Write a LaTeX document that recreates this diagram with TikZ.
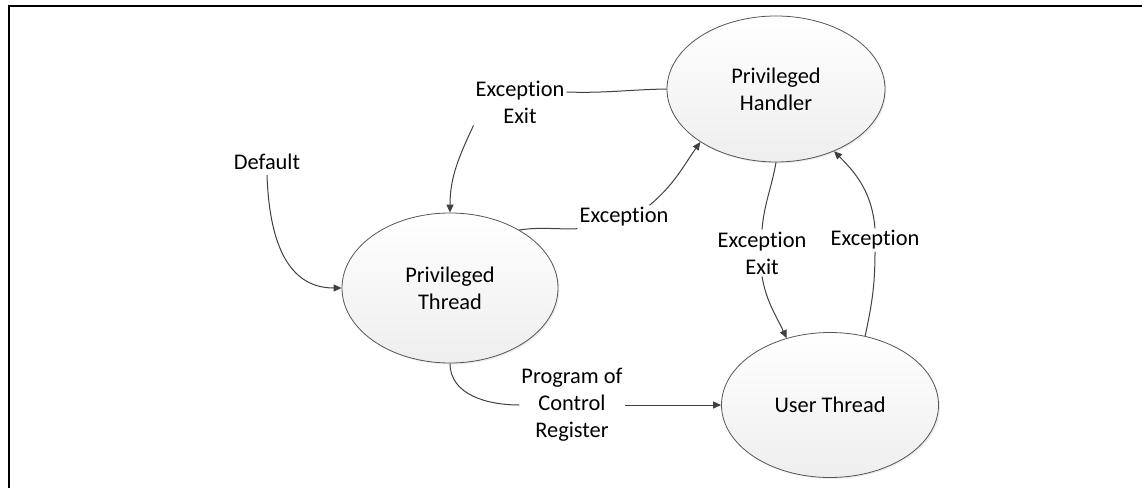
\documentclass[tikz,border=0pt]{standalone}
\usepackage{fontspec}
\setmainfont[Ligatures={NoCommon},RawFeature={-liga;-dlig;-clig}]{Carlito}
\usetikzlibrary{arrows.meta,shapes.geometric,shadows}
\definecolor{edgecol}{HTML}{404040}
\definecolor{ellcol}{HTML}{555555}
\definecolor{shadebot}{HTML}{EEEEEE}
\tikzset{
  state/.style={ellipse, draw=ellcol, line width=0.8pt, top color=white, bottom color=shadebot,
    inner sep=0pt, align=center, font=\fontsize{22.4}{27}\selectfont,
    drop shadow={opacity=0.15, shadow xshift=1.5pt, shadow yshift=-1.5pt}},
  lbl/.style={inner sep=2pt, align=center, font=\fontsize{22.4}{27}\selectfont},
  conn/.style={draw=edgecol, line width=1pt},
  arr/.style={conn, -{Triangle[length=8pt,width=7pt]}},
  frame/.style={line width=2.6pt, black}
}
\begin{document}
\begin{tikzpicture}[x=1pt,y=1pt]
\useasboundingbox (0,0) rectangle (1142,488);
\draw[frame] (9,0) -- (9,482) -- (1142,482);

\node[state, minimum width=218pt, minimum height=146pt] (ph) at (776,399) {Privileged\\Handler};
\node[state, minimum width=216pt, minimum height=150pt] (pt) at (450,200) {Privileged\\Thread};
\node[state, minimum width=217pt, minimum height=145pt] (ut) at (830,83) {User Thread};

\node[lbl] (dflt) at (267,326) {Default};
\node[lbl] (ee1) at (520,386) {Exception\\Exit};
\node[lbl] (ex1) at (624,271) {Exception};
\node[lbl] (ee2) at (762,235) {Exception\\Exit};
\node[lbl] (ex2) at (875,248) {Exception};
\node[lbl] (pcr) at (572,83) {Program of\\Control\\Register};

% Default
\draw[arr] ([yshift=-3pt]dflt.south) to[out=-88,in=180,looseness=1.1] (pt.west);
% Exception Exit (PH -> PT)
\draw[conn] (ph.west) to[out=181,in=-2] ([yshift=10pt]ee1.east);
\draw[arr] (ee1.south west) to[out=-115,in=90] (pt.north);
% Exception (PT -> PH)
\draw[conn] (pt.40) to[out=8,in=182] (ex1.south west);
\draw[arr] ([xshift=-21pt]ex1.north east) to[out=40,in=-125] (ph.215);
% Exception Exit (PH -> UT)
\draw[conn] (ph.south) to[out=-100,in=85] (ee2.north);
\draw[arr] (ee2.south) to[out=-80,in=115] (ut.123);
% Exception (UT -> PH)
\draw[conn] (ut.63) to[out=78,in=-90] (ex2.south);
\draw[arr] (ex2.north) to[out=95,in=-45] (ph.313);
% Program of Control Register
\draw[conn] (pt.south) to[out=-90,in=180] (pcr.west);
\draw[arr] (pcr.east) -- (ut.west);
\end{tikzpicture}
\end{document}
